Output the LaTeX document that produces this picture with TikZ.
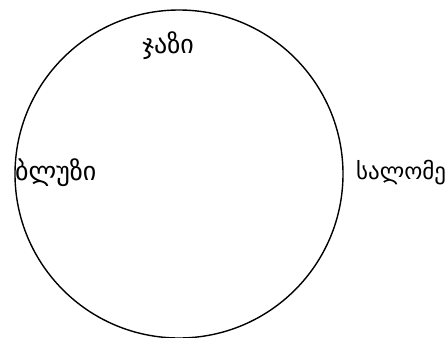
\documentclass[tikz,border=0pt]{standalone}
\usepackage{fontspec}
\usepackage{xcolor}
\newfontfamily\geofont[Script=Georgian]{DejaVu Sans}
\definecolor{ink}{HTML}{000000}

\begin{document}
\begin{tikzpicture}[x=1pt,y=-1pt,every node/.style={font=\geofont\fontsize{26}{30}\selectfont,color=ink,inner sep=0pt}]
\useasboundingbox (0,0) rectangle (448,338);
\draw[ink,line width=1.4pt] (179,174) circle (164);
\node (jazz) at (168,46) {ჯაზი};
\node[anchor=west] (blues) at (15,173) {ბლუზი};
\node[anchor=west,font=\geofont\fontsize{23}{27}\selectfont] (salome) at (356,173) {სალომე};
\end{tikzpicture}
\end{document}
